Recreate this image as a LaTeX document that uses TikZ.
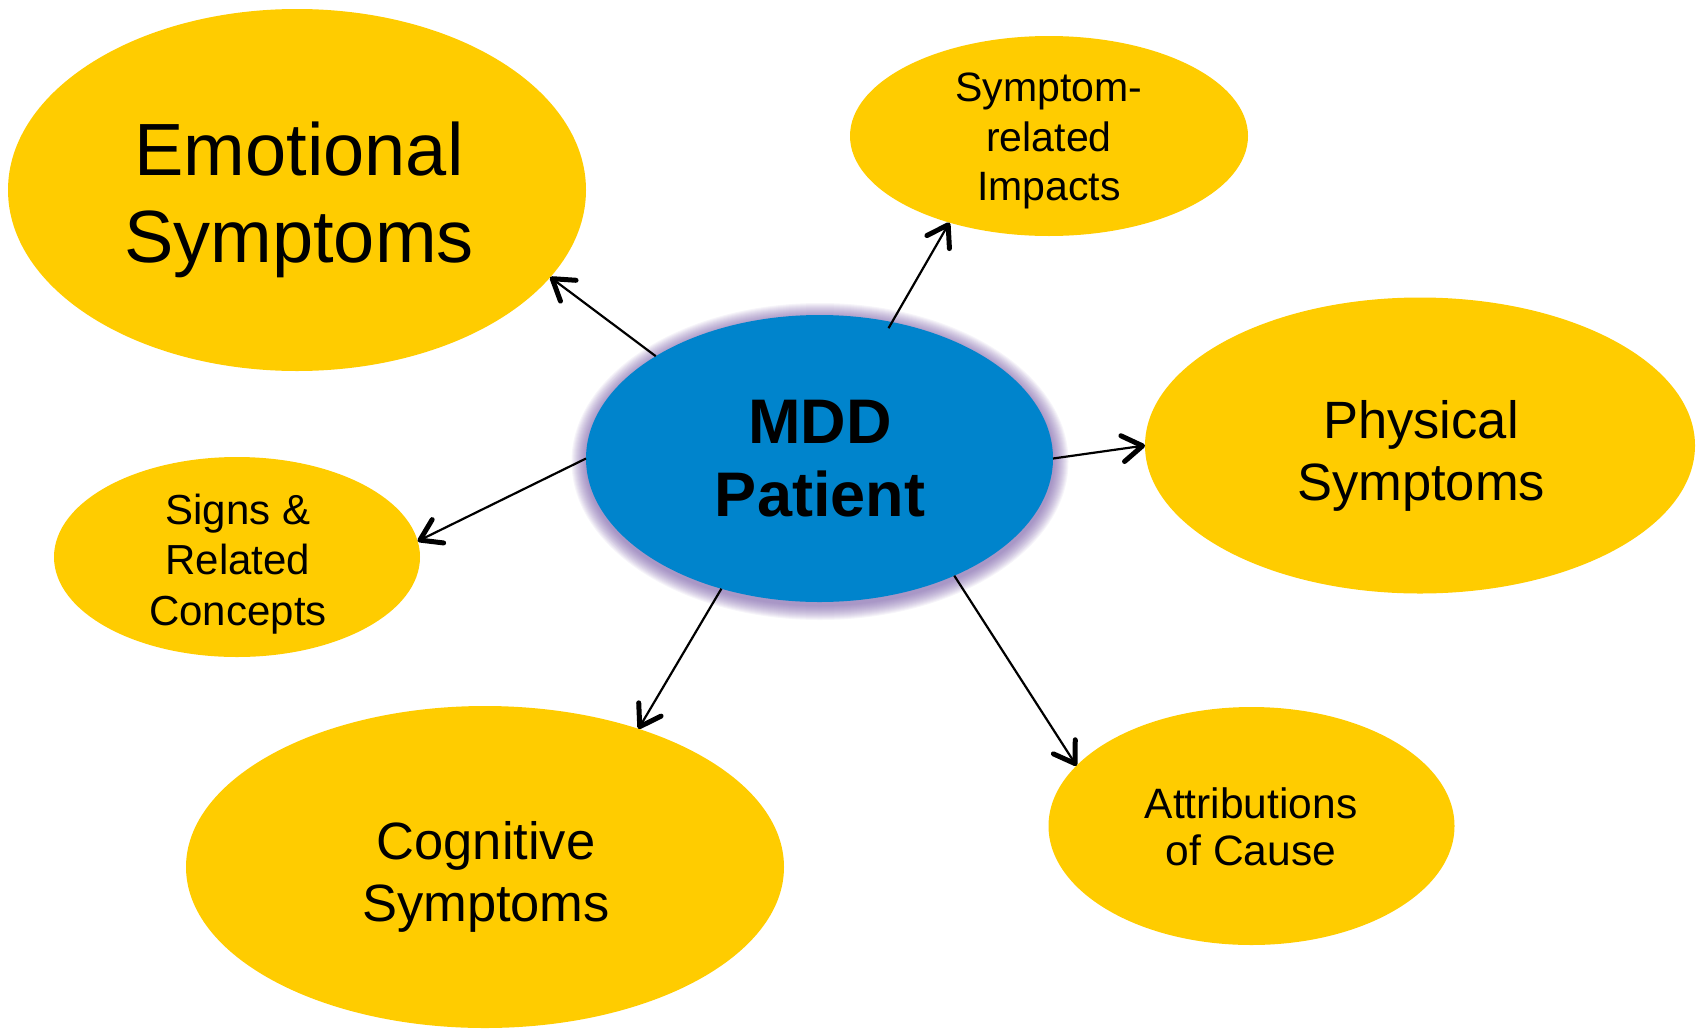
\documentclass[tikz,border=0pt]{standalone}
\usepackage{fontspec}
\setmainfont{Liberation Sans}
\usetikzlibrary{shapes.geometric,arrows.meta}
\definecolor{ylw}{RGB}{255,204,0}
\definecolor{mddblue}{RGB}{0,132,204}
\definecolor{glow}{RGB}{110,80,160}
\begin{document}
\begin{tikzpicture}[x=1pt,y=-1pt,
  bubble/.style={ellipse, fill=ylw, inner sep=0pt, outer sep=0pt},
  txt/.style={anchor=north, align=center, inner sep=0pt, outer sep=0pt, text=black},
  link/.style={line width=2.2pt, -{Straight Barb[length=20pt,width=26pt,line width=5pt,round]}}]
\useasboundingbox (0,0) rectangle (1699,1028);
% glow around centre
\foreach \i in {1,...,15}
  \fill[glow, opacity=0.06] (820,461.5) ellipse [x radius={233.5+\i}, y radius={143.5+\i}];
% ellipses
\node[bubble, minimum width=578pt, minimum height=362pt] (emo) at (297,190) {};
\node[bubble, minimum width=398pt, minimum height=200pt] (imp) at (1049,136) {};
\node[bubble, minimum width=550pt, minimum height=296pt] (phy) at (1420,445.5) {};
\node[bubble, minimum width=366pt, minimum height=200pt] (sig) at (237,557) {};
\node[bubble, minimum width=598pt, minimum height=322pt] (cog) at (485,867) {};
\node[bubble, minimum width=406pt, minimum height=238pt] (att) at (1251.5,826) {};
\node[bubble, fill=mddblue, minimum width=467pt, minimum height=287pt] (mdd) at (819.5,458.5) {};
% texts
\node[txt, font=\fontsize{74}{87}\selectfont] (emoT) at (299,121.5) {Emotional\\Symptoms};
\node[txt, font=\fontsize{41}{49.5}\selectfont] (impT) at (1049,73) {Symptom-\\related\\Impacts};
\node[txt, font=\fontsize{52.5}{62}\selectfont] (phyT) at (1421,400) {Physical\\Symptoms};
\node[txt, font=\fontsize{42}{50.5}\selectfont] (sigT) at (238,494) {Signs \&\\Related\\Concepts};
\node[txt, font=\fontsize{52.5}{62}\selectfont] (cogT) at (486,821) {Cognitive\\Symptoms};
\node[txt, font=\fontsize{42.5}{47}\selectfont] (attT) at (1251,788) {Attributions\\of Cause};
\node[txt, font=\fontsize{63}{73}\selectfont\bfseries] (mddT) at (820,400) {MDD\\Patient};
% connectors
\draw[link] (mdd.148.6) -- (emo.-19.3);
\draw[link, shorten <=-7pt] (mdd.62.7) -- (imp.221.5);
\draw[link] (mdd.0) -- (phy.180);
\draw[link] (mdd.180) -- (sig.5.25);
\draw[link] (mdd.233.4) -- (cog.42.8);
\draw[link] (mdd.-41.6) -- (att.161.7);
\end{tikzpicture}
\end{document}
